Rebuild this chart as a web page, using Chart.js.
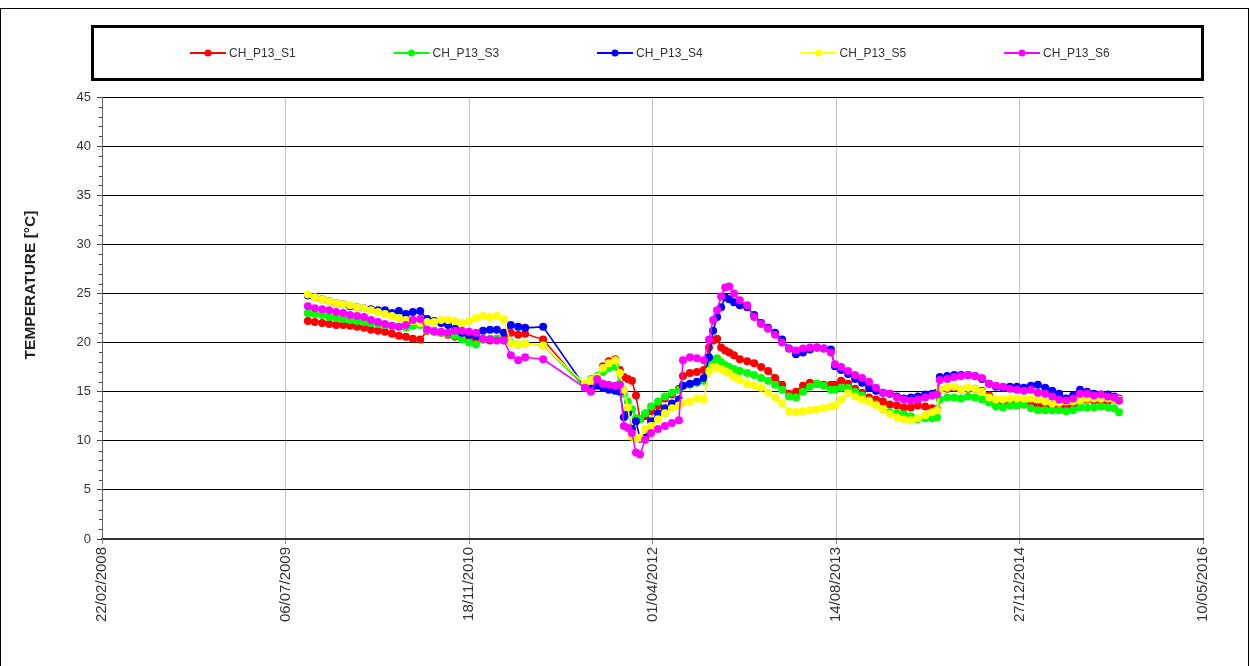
<!DOCTYPE html>
<html>
<head>
<meta charset="utf-8">
<script src="https://cdn.jsdelivr.net/npm/chart.js@4.4.0/dist/chart.umd.min.js"></script>
<style>
  body { margin: 0; background: #fff; }
  #wrap { width: 1250px; height: 666px; }
</style>
</head>
<body>
<div id="wrap"><canvas id="myChart" width="1250" height="666"></canvas></div>
<script>
// dates are Excel serial day numbers (days since 30/12/1899)
const dates = [
  40061, 40080, 40100, 40119, 40138, 40157, 40176, 40195, 40214, 40233, 40252, 40271, 40290, 40309, 40328, 40347, 40367, 40386,
  40405, 40424, 40443, 40462, 40481, 40500, 40519, 40538, 40557, 40576, 40595, 40614, 40634, 40653, 40702,
  40816, 40832, 40849, 40865, 40881, 40898, 40911, 40922, 40933, 40944, 40955, 40966, 40980, 40996, 41015, 41034, 41053, 41072, 41083, 41102, 41121, 41140, 41154,
  41165, 41176, 41187, 41198, 41209, 41222, 41238, 41258, 41277, 41296, 41315, 41334, 41353, 41372, 41391, 41410, 41429, 41448, 41467, 41486,
  41497, 41514, 41533, 41552, 41571, 41590, 41609, 41628, 41647, 41666, 41685, 41704, 41723, 41743, 41762, 41775, 41783, 41803, 41822, 41841,
  41860, 41879, 41898, 41917, 41936, 41955, 41974, 41993, 42012, 42031, 42050, 42070, 42089, 42108, 42127, 42146, 42165, 42184, 42203, 42222,
  42241, 42258, 42271
];

const s1 = [
  22.2, 22.1, 22.0, 21.9, 21.8, 21.8, 21.7, 21.6, 21.5, 21.3, 21.2, 21.1, 20.9, 20.7, 20.6, 20.4, 20.3, 21.2,
  21.2, 21.0, 20.8, 20.6, 20.5, 20.4, 20.1, 20.3, 20.2, 20.4, 20.3, 21.0, 20.8, 20.9, 20.3,
  15.4, 15.3, 16.2, 17.6, 18.1, 18.3, 17.2, 16.5, 16.3, 16.1, 14.6, 12.2, 12.5, 13.0, 13.6, 14.3, 14.7, 15.3, 16.6, 16.9, 17.0, 17.2, 19.5,
  20.2, 20.4, 19.5, 19.2, 19.0, 18.7, 18.3, 18.1, 17.9, 17.5, 17.1, 16.4, 15.7, 14.8, 15.0, 15.6, 15.9, 15.8, 15.7, 15.7,
  15.7, 16.1, 15.8, 15.3, 14.9, 14.4, 14.2, 14.0, 13.7, 13.6, 13.4, 13.4, 13.6, 13.5, 13.3, 13.2, 15.2, 15.3, 15.4, 15.2,
  15.3, 15.3, 15.1, 14.6, 14.1, 13.9, 13.8, 14.0, 13.7, 13.6, 13.6, 13.6, 13.4, 13.4, 13.4, 13.6, 14.0, 14.2, 14.1, 14.0,
  14.0, 14.2, 14.1
];
const s3 = [
  23.0, 22.9, 22.8, 22.6, 22.5, 22.4, 22.3, 22.2, 22.1, 22.0, 21.9, 21.8, 21.7, 21.6, 21.5, 21.7, 21.8, 21.2,
  21.2, 21.0, 20.9, 20.7, 20.3, 20.0, 19.8, 20.3, 20.4, 20.4, 20.2, 20.0, 19.8, 19.9, 19.7,
  15.5, 16.3, 16.6, 17.0, 17.4, 17.6, 15.8, 14.8, 14.0, 13.2, 12.3, 12.2, 12.8, 13.5, 14.0, 14.5, 14.9, 15.2, 15.6, 15.7, 15.9, 16.1, 17.8,
  18.2, 18.4, 18.0, 17.7, 17.5, 17.3, 17.1, 16.9, 16.7, 16.4, 16.1, 15.7, 15.2, 14.5, 14.4, 15.0, 15.5, 15.8, 15.6, 15.2,
  15.2, 15.4, 15.4, 15.0, 14.6, 14.1, 13.7, 13.2, 12.9, 12.8, 12.7, 12.5, 12.2, 12.3, 12.3, 12.4, 14.2, 14.4, 14.4, 14.3,
  14.5, 14.4, 14.2, 13.9, 13.5, 13.4, 13.6, 13.6, 13.7, 13.3, 13.1, 13.1, 13.1, 13.1, 13.0, 13.1, 13.4, 13.4, 13.4, 13.5,
  13.4, 13.3, 12.9
];
const s4 = [
  24.8, 24.6, 24.4, 24.2, 24.0, 23.9, 23.7, 23.6, 23.5, 23.4, 23.3, 23.3, 23.0, 23.2, 22.9, 23.1, 23.2, 22.4,
  22.2, 22.0, 21.8, 21.4, 21.0, 20.8, 20.7, 21.2, 21.3, 21.3, 21.0, 21.8, 21.6, 21.5, 21.6,
  15.5, 15.3, 15.6, 15.4, 15.2, 15.1, 15.0, 12.4, 12.8, 11.2, 12.0, 10.2, 10.3, 12.0, 12.8, 13.3, 13.8, 14.2, 15.6, 15.8, 16.0, 16.4, 18.5,
  21.2, 22.6, 23.6, 24.6, 24.4, 24.1, 23.8, 23.6, 22.8, 22.0, 21.5, 21.0, 20.3, 19.4, 18.8, 19.0, 19.3, 19.5, 19.4, 19.3,
  17.6, 17.2, 16.8, 16.3, 15.9, 15.4, 15.1, 14.9, 14.8, 14.5, 14.3, 14.4, 14.5, 14.7, 14.8, 14.9, 16.5, 16.6, 16.7, 16.7,
  16.7, 16.6, 16.3, 15.8, 15.5, 15.4, 15.5, 15.5, 15.4, 15.6, 15.7, 15.4, 15.1, 14.8, 14.3, 14.6, 15.2, 15.0, 14.8, 14.7,
  14.7, 14.5, 14.3
];
const s5 = [
  24.9, 24.6, 24.4, 24.2, 24.0, 23.9, 23.8, 23.6, 23.5, 23.3, 23.1, 22.9, 22.7, 22.5, 22.3, 22.2, 22.0, 22.1,
  22.1, 22.3, 22.3, 22.2, 22.0, 22.2, 22.5, 22.7, 22.6, 22.7, 22.4, 19.9, 19.8, 19.9, 19.7,
  15.8, 16.2, 16.5, 17.4, 17.9, 18.2, 16.9, 15.2, 13.4, 10.4, 10.2, 10.3, 11.2, 11.5, 12.2, 12.8, 13.3, 13.6, 13.9, 14.0, 14.3, 14.2, 17.1,
  17.5, 17.4, 17.3, 17.1, 16.9, 16.5, 16.2, 15.8, 15.6, 15.4, 14.9, 14.4, 13.8, 13.0, 12.9, 13.0, 13.1, 13.2, 13.3, 13.5,
  13.6, 14.2, 14.9, 14.5, 14.2, 14.0, 13.6, 13.2, 12.7, 12.4, 12.2, 12.1, 12.3, 12.6, 12.9, 13.1, 15.2, 15.4, 15.5, 15.2,
  15.4, 15.3, 15.0, 14.4, 14.2, 14.2, 14.3, 14.3, 14.3, 14.3, 14.2, 14.0, 13.8, 13.9, 14.0, 14.0, 14.1, 14.3, 14.3, 14.3,
  14.3, 14.2, 14.2
];
const s6 = [
  23.7, 23.5, 23.4, 23.3, 23.1, 23.0, 22.8, 22.7, 22.6, 22.3, 22.1, 21.9, 21.7, 21.6, 21.8, 22.3, 22.4, 21.3,
  21.1, 21.1, 21.0, 21.2, 21.2, 21.1, 21.0, 20.4, 20.3, 20.2, 20.2, 18.7, 18.2, 18.5, 18.3,
  15.4, 15.0, 16.3, 15.8, 15.7, 15.6, 15.7, 11.5, 11.3, 10.8, 8.8, 8.6, 10.1, 10.8, 11.2, 11.5, 11.8, 12.1, 18.2, 18.5, 18.4, 18.2, 20.3,
  22.3, 23.3, 24.7, 25.6, 25.7, 25.0, 24.3, 23.8, 22.6, 21.9, 21.4, 20.8, 20.0, 19.4, 19.2, 19.4, 19.5, 19.5, 19.4, 19.0,
  17.8, 17.5, 17.1, 16.7, 16.4, 16.0, 15.4, 14.9, 14.8, 14.4, 14.2, 14.1, 14.2, 14.4, 14.6, 14.7, 16.2, 16.3, 16.5, 16.6,
  16.7, 16.6, 16.4, 15.8, 15.6, 15.5, 15.3, 15.2, 15.1, 15.2, 14.9, 14.8, 14.5, 14.2, 14.1, 14.3, 14.8, 14.8, 14.6, 14.7,
  14.5, 14.4, 14.1
];

const seriesNames = ['CH_P13_S1', 'CH_P13_S3', 'CH_P13_S4', 'CH_P13_S5', 'CH_P13_S6'];
const seriesValues = [s1, s3, s4, s5, s6];
const seriesColors = ['#ff0000', '#00ff00', '#0000ff', '#ffff00', '#ff00ff'];

const xMin = 39500, xMax = 42500, xStep = 500;   // 22/02/2008 .. 10/05/2016
const yMin = 0, yMax = 45, yStep = 5;
const yTitle = 'TEMPERATURE [°C]';

const FONT = 'Arial, "Liberation Sans", sans-serif';

function serialToText(n) {
  const d = new Date(Date.UTC(1899, 11, 30) + n * 86400000);
  const dd = String(d.getUTCDate()).padStart(2, '0');
  const mm = String(d.getUTCMonth() + 1).padStart(2, '0');
  return dd + '/' + mm + '/' + d.getUTCFullYear();
}

// white background, outer frame, axis title, legend box and minor y ticks
const decor = {
  id: 'decor',
  beforeDraw(chart) {
    const c = chart.ctx;
    c.save();
    c.fillStyle = '#fff';
    c.fillRect(0, 0, chart.width, chart.height);
    c.strokeStyle = '#000';
    c.lineWidth = 1;
    c.strokeRect(0.5, 8.5, chart.width - 2, chart.height + 20);
    c.restore();
  },
  afterDraw(chart) {
    const c = chart.ctx;
    const ys = chart.scales.y;
    c.save();
    // minor ticks
    c.strokeStyle = '#444';
    c.lineWidth = 1;
    for (let v = yMin; v <= yMax; v++) {
      if (v % yStep === 0) continue;
      const py = Math.round(ys.getPixelForValue(v)) + 0.5;
      c.beginPath();
      c.moveTo(ys.right - 3, py);
      c.lineTo(ys.right, py);
      c.stroke();
    }
    // y axis title
    c.save();
    c.translate(31, 285);
    c.rotate(-Math.PI / 2);
    c.font = 'bold 15.5px ' + FONT;
    c.fillStyle = '#222';
    c.textAlign = 'center';
    c.textBaseline = 'middle';
    c.fillText(yTitle, 0, 0);
    c.restore();
    // legend
    c.lineWidth = 3;
    c.strokeStyle = '#000';
    c.strokeRect(92.5, 26.5, 1110, 53);
    c.font = '12px ' + FONT;
    c.textBaseline = 'middle';
    chart.data.datasets.forEach((ds, i) => {
      const x0 = 190 + i * 203.5, y = 53;
      c.strokeStyle = ds.borderColor;
      c.lineWidth = 2;
      c.beginPath();
      c.moveTo(x0, y);
      c.lineTo(x0 + 36, y);
      c.stroke();
      c.fillStyle = ds.borderColor;
      c.beginPath();
      c.arc(x0 + 18, y, 3.5, 0, Math.PI * 2);
      c.fill();
      c.fillStyle = '#333';
      c.fillText(ds.label, x0 + 39, y + 1);
    });
    c.restore();
  }
};

const ctx = document.getElementById('myChart');

new Chart(ctx, {
  type: 'line',
  data: {
    datasets: seriesNames.map((name, i) => ({
      label: name,
      data: dates.map((d, j) => ({ x: d, y: seriesValues[i][j] })),
      borderColor: seriesColors[i],
      backgroundColor: seriesColors[i],
      pointBackgroundColor: seriesColors[i],
      borderWidth: 1.6,
      pointRadius: 4,
      pointBorderWidth: 0,
      pointHoverRadius: 4,
      tension: 0,
      fill: false,
      order: seriesNames.length - i
    }))
  },
  options: {
    responsive: false,
    animation: false,
    events: [],
    layout: { padding: { left: 0, top: 97, right: 47, bottom: 0 } },
    plugins: {
      legend: { display: false },
      tooltip: { enabled: false }
    },
    scales: {
      x: {
        type: 'linear',
        min: xMin,
        max: xMax,
        afterFit(scale) { scale.height = 127; },
        ticks: {
          stepSize: xStep,
          autoSkip: false,
          minRotation: 90,
          maxRotation: 90,
          padding: 3,
          color: '#333',
          font: { family: FONT, size: 15 },
          callback: (v) => serialToText(v)
        },
        grid: { color: '#c0c0c0', lineWidth: 1, tickLength: 5, tickColor: '#888' },
        border: { color: '#333', width: 2 }
      },
      y: {
        min: yMin,
        max: yMax,
        afterFit(scale) { scale.width = 102; },
        ticks: {
          stepSize: yStep,
          padding: 6,
          color: '#333',
          font: { family: FONT, size: 13 }
        },
        grid: { color: '#000', lineWidth: 1, tickLength: 5, tickColor: '#444' },
        border: { color: '#666', width: 1 },
        title: { display: false }
      }
    }
  },
  plugins: [decor]
});
</script>
</body>
</html>
